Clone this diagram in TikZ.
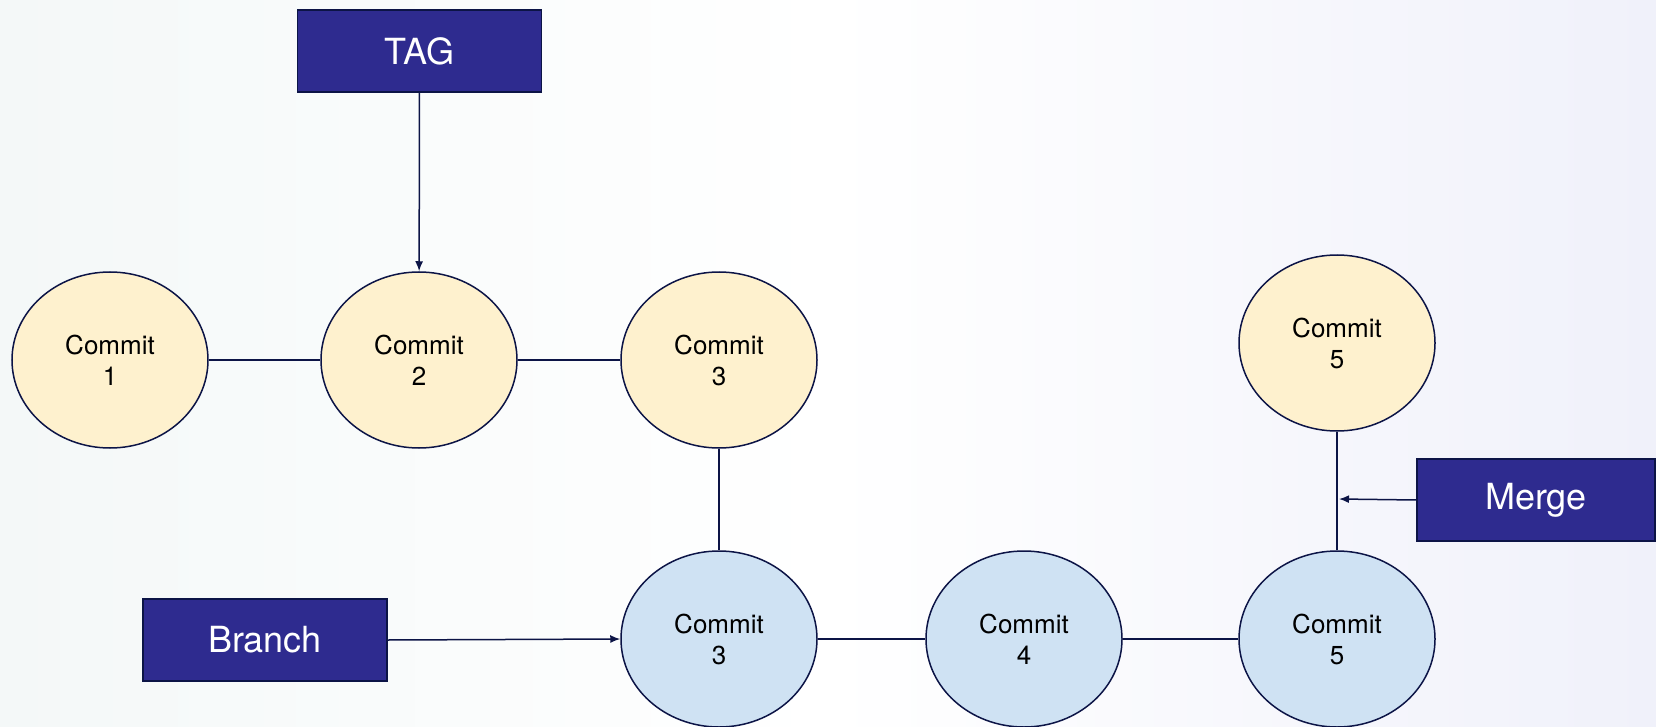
\documentclass[tikz,border=0pt]{standalone}
\usepackage{fontspec}
\setmainfont{TeX Gyre Heros}
\usepackage{tikz}
\usetikzlibrary{shapes,positioning,arrows.meta}
\usepackage{xcolor}
\definecolor{boxblue}{RGB}{46,43,143}
\definecolor{edgeblue}{RGB}{12,20,70}
\definecolor{mainyellow}{RGB}{254,241,206}
\definecolor{branchblue}{RGB}{207,226,243}
\definecolor{bgleft}{RGB}{244,248,248}
\definecolor{bgright}{RGB}{240,241,250}

\begin{document}
\begin{tikzpicture}[x=1pt,y=-1pt]
    %styles
    \tikzstyle{commit}=[ellipse,draw=edgeblue,line width=1.5pt,align=center,inner sep=0pt,minimum width=196pt,minimum height=176pt,font=\fontsize{26}{31}\selectfont]
    \tikzstyle{master}=[commit,fill=mainyellow]
    \tikzstyle{side}=[commit,fill=branchblue]
    \tikzstyle{label}=[rectangle,draw=edgeblue,line width=1.5pt,fill=boxblue,text=white,minimum width=244pt,minimum height=82pt,inner sep=0pt,font=\fontsize{36}{40}\selectfont]
    \tikzstyle{link}=[draw=edgeblue,line width=1.5pt]
    \tikzstyle{point}=[->,>={Latex[length=10pt,width=8pt]},draw=edgeblue,line width=1.5pt]
    %background
    \shade[left color=bgleft,right color=bgright,middle color=white] (0,0) rectangle (1656,727);
    \useasboundingbox (0,0) rectangle (1656,727);
    %nodes
    \node[master] (c1) at (110,360) {Commit\\1};
    \node[master] (c2) at (419,360) {Commit\\2};
    \node[master] (c3) at (719,360) {Commit\\3};
    \node[master] (c5) at (1337,343) {Commit\\5};
    \node[side] (b3) at (719,639) {Commit\\3};
    \node[side] (b4) at (1024,639) {Commit\\4};
    \node[side] (b5) at (1337,639) {Commit\\5};
    \node[label] (tag) at (419.5,51) {TAG};
    \node[label] (branch) at (265,640) {Branch};
    \node[label,minimum width=238pt] (merge) at (1536,500) {Merge};
    \coordinate (mpt) at (1339,499);

    %arrows
    \draw[link] (c1)--(c2);
    \draw[link] (c2)--(c3);
    \draw[link] (c3)--(b3);
    \draw[link] (b3)--(b4);
    \draw[link] (b4)--(b5);
    \draw[link] (b5)--(c5);
    \draw[point] (tag)--(c2);
    \draw[point] (branch.east)--(b3.west);
    \draw[point] (merge.west)--(mpt);

\end{tikzpicture}
\end{document}
